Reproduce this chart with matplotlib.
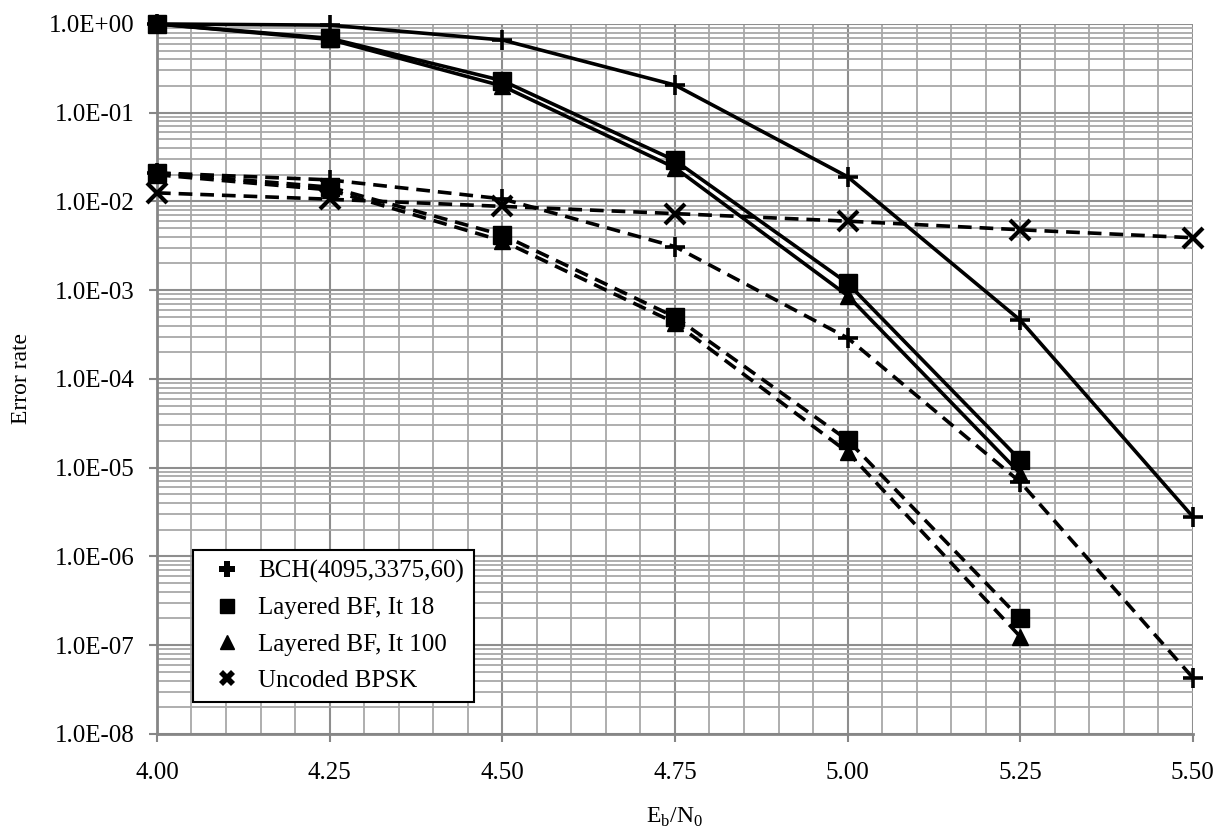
import matplotlib
matplotlib.use("Agg")
import matplotlib.pyplot as plt
from matplotlib.lines import Line2D
from matplotlib.ticker import FixedLocator, FuncFormatter, MultipleLocator

plt.rcParams['font.family'] = ['Liberation Serif', 'DejaVu Serif']
plt.rcParams['mathtext.fontset'] = 'custom'
plt.rcParams['mathtext.rm'] = 'Liberation Serif'

# Eb/N0 points
EBN0 = [4.00, 4.25, 4.50, 4.75, 5.00, 5.25, 5.50]
EBN0_LBF = EBN0[:6]

# BCH(4095,3375,60): solid = frame error, dashed = bit error
bch_fer = [1.0, 0.97, 0.66, 0.205, 0.019, 4.6e-4, 2.8e-6]
bch_ber = [0.021, 0.0175, 0.0107, 3.1e-3, 2.9e-4, 6.9e-6, 4.3e-8]

# Layered BF, It 18
lbf18_fer = [1.0, 0.69, 0.23, 0.029, 1.2e-3, 1.22e-5]
lbf18_ber = [0.021, 0.0145, 4.2e-3, 5.0e-4, 2.05e-5, 2.0e-7]

# Layered BF, It 100
lbf100_fer = [1.0, 0.67, 0.20, 0.024, 8.7e-4, 8.6e-6]
lbf100_ber = [0.020, 0.0135, 3.6e-3, 4.3e-4, 1.5e-5, 1.25e-7]

# Uncoded BPSK
bpsk_ber = [0.0125, 0.0106, 0.0088, 0.0073, 0.0060, 0.0048, 0.0039]

LABELS = ["BCH(4095,3375,60)", "Layered BF, It 18", "Layered BF, It 100", "Uncoded BPSK"]

fig = plt.figure(figsize=(12.13, 8.35), dpi=100)
ax = fig.add_axes([0.1294, 0.121, 0.854, 0.8503])

LW = 2.6
DASH = (3.8, 2.2)
GRID = "#a8a8a8"

def draw(x, y, marker, ms, mew, dashed):
   kw = dict(color="black", lw=LW, marker=marker, ms=ms, mew=mew,
             mfc="black", mec="black", clip_on=False, zorder=3)
   line, = ax.plot(x, y, **kw)
   if dashed:
      line.set_dashes(DASH)
   return line

draw(EBN0, bch_fer, "+", 15, 2.6, False)
draw(EBN0, bch_ber, "+", 15, 2.6, True)
draw(EBN0_LBF, lbf18_fer, "s", 12.5, 1, False)
draw(EBN0_LBF, lbf18_ber, "s", 12.5, 1, True)
draw(EBN0_LBF, lbf100_fer, "^", 11, 1, False)
draw(EBN0_LBF, lbf100_ber, "^", 11, 1, True)
draw(EBN0, bpsk_ber, "x", 14, 3, True)

ax.set_yscale("log")
ax.set_xlim(4.0, 5.5)
ax.set_ylim(1e-8, 1.0)

ax.xaxis.set_major_locator(MultipleLocator(0.25))
ax.xaxis.set_minor_locator(MultipleLocator(0.05))
ax.xaxis.set_major_formatter(FuncFormatter(lambda v, p: f"{v:.2f}"))

ax.yaxis.set_major_locator(FixedLocator([10.0 ** e for e in range(-8, 1)]))
minor_y = [m * 10.0 ** e for e in range(-8, 0) for m in range(2, 10)]
ax.yaxis.set_minor_locator(FixedLocator(minor_y))
ax.yaxis.set_major_formatter(FuncFormatter(lambda v, p: f"{v:.1E}"))

ax.grid(True, which="major", color="#8e8e8e", lw=1.5, zorder=0)
ax.grid(True, which="minor", color=GRID, lw=1.3, zorder=0)
ax.set_axisbelow(True)

for side in ["top", "right"]:
   ax.spines[side].set_visible(False)
for side in ["left", "bottom"]:
   ax.spines[side].set_color("#868686")
   ax.spines[side].set_linewidth(2)

ax.tick_params(which="major", length=6, width=1.5, color="#868686", labelsize=18, pad=10)
ax.tick_params(which="minor", length=0)
ax.tick_params(axis="x", pad=14)

ax.set_ylabel("Error rate", fontsize=17, labelpad=12)
ax.set_xlabel(r"E$_\mathregular{b}$/N$_\mathregular{0}$", fontsize=17, labelpad=16)

handles = [
   Line2D([], [], ls="none", marker="P", ms=11, color="black", mew=0),
   Line2D([], [], ls="none", marker="s", ms=10, color="black"),
   Line2D([], [], ls="none", marker="^", ms=10, color="black"),
   Line2D([], [], ls="none", marker="X", ms=11, color="black", mew=0),
]
leg = ax.legend(handles, LABELS, loc="upper left", bbox_to_anchor=(0.0347, 0.259),
                borderaxespad=0, fancybox=False, framealpha=1, edgecolor="black",
                fontsize=18, handlelength=1.9, handletextpad=0.3,
                labelspacing=0.55, borderpad=0.4)
leg.get_frame().set_linewidth(1.5)
leg.set_zorder(5)

fig.savefig("out.png", dpi=100)
